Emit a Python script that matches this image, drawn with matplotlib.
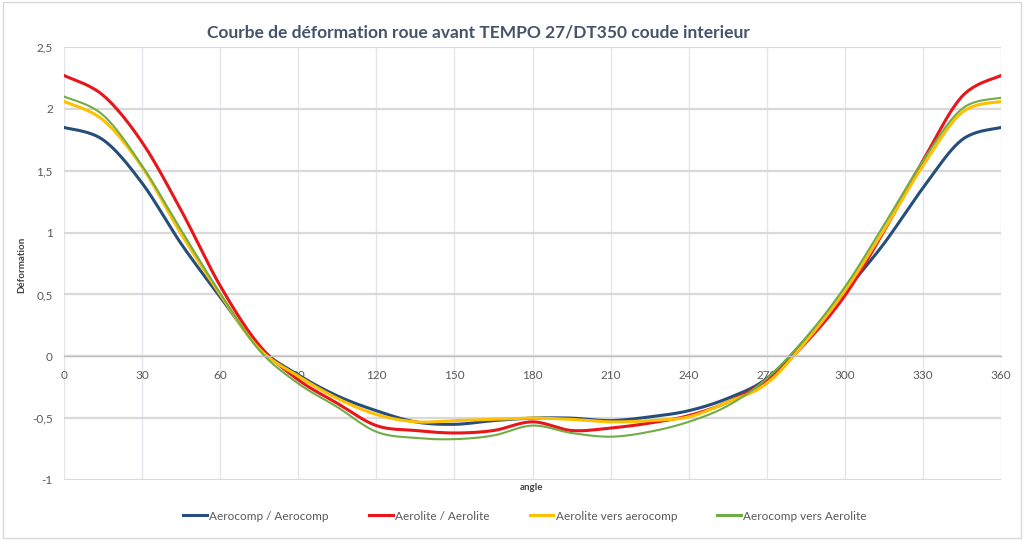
import numpy as np
import matplotlib
matplotlib.use("Agg")
import matplotlib.pyplot as plt
from matplotlib.patches import Rectangle
from matplotlib.lines import Line2D

angles = list(range(0, 361, 15))
aerocomp_aerocomp = [1.85, 1.75, 1.40, 0.91, 0.48, 0.07, -0.15, -0.32, -0.44, -0.53, -0.55, -0.52, -0.50,
                     -0.50, -0.52, -0.49, -0.44, -0.34, -0.18, 0.14, 0.52, 0.91, 1.36, 1.75, 1.85]
aerolite_aerolite = [2.27, 2.11, 1.73, 1.18, 0.57, 0.09, -0.19, -0.38, -0.56, -0.60, -0.62, -0.60, -0.53,
                     -0.60, -0.58, -0.54, -0.48, -0.37, -0.19, 0.11, 0.49, 1.01, 1.58, 2.10, 2.27]
aerolite_vers_aerocomp = [2.06, 1.91, 1.53, 0.99, 0.50, 0.06, -0.16, -0.34, -0.47, -0.53, -0.52, -0.51, -0.50,
                          -0.51, -0.53, -0.52, -0.49, -0.37, -0.22, 0.12, 0.53, 1.02, 1.54, 1.97, 2.06]
aerocomp_vers_aerolite = [2.10, 1.95, 1.54, 1.02, 0.51, 0.05, -0.22, -0.41, -0.61, -0.66, -0.67, -0.64, -0.56,
                          -0.62, -0.65, -0.61, -0.53, -0.40, -0.18, 0.15, 0.56, 1.06, 1.58, 2.00, 2.09]

series_names = ["Aerocomp / Aerocomp", "Aerolite / Aerolite", "Aerolite vers aerocomp", "Aerocomp vers Aerolite"]
x_ticks = list(range(0, 361, 30))
y_ticks = [-1, -0.5, 0, 0.5, 1, 1.5, 2, 2.5]
y_tick_labels = ["-1", "-0,5", "0", "0,5", "1", "1,5", "2", "2,5"]

colors = ["#264e7a", "#e8151b", "#ffc000", "#70ad47"]
widths = [2.2, 2.2, 2.2, 1.5]


def smooth(x, y, n=24):
    """Excel-like smoothed line (Catmull-Rom / Bezier) through the given points."""
    x = np.asarray(x, float)
    y = np.asarray(y, float)
    P = np.column_stack([x, y])
    out = []
    m = len(P)
    t = np.linspace(0, 1, n)[:, None]
    for i in range(m - 1):
        p0 = P[i - 1] if i > 0 else P[i]
        p1 = P[i]
        p2 = P[i + 1]
        p3 = P[i + 2] if i + 2 < m else P[i + 1]
        c1 = p1 + (p2 - p0) / 6.0
        c2 = p2 - (p3 - p1) / 6.0
        seg = ((1 - t) ** 3) * p1 + 3 * ((1 - t) ** 2) * t * c1 + 3 * (1 - t) * t ** 2 * c2 + t ** 3 * p2
        out.append(seg if i == 0 else seg[1:])
    S = np.vstack(out)
    return S[:, 0], S[:, 1]


plt.rcParams['font.family'] = ['Lato', 'DejaVu Sans']
fig = plt.figure(figsize=(10.24, 5.4), dpi=100)
fig.patches.append(Rectangle((0.003, 0.004), 0.994, 0.992, transform=fig.transFigure,
                             fill=False, edgecolor="#d9d9d9", linewidth=1))

ax = fig.add_axes([64 / 1024, 1 - 480 / 540, (1001 - 64) / 1024, (480 - 47) / 540])

for ys, c, w, name in zip([aerocomp_aerocomp, aerolite_aerolite, aerolite_vers_aerocomp, aerocomp_vers_aerolite],
                          colors, widths, series_names):
    sx, sy = smooth(angles, ys)
    ax.plot(sx, sy, color=c, linewidth=w, label=name, solid_capstyle='round')

ax.set_xlim(0, 360)
ax.set_ylim(-1, 2.5)
ax.set_xticks(x_ticks)
ax.set_xticklabels([str(v) for v in x_ticks])
ax.set_yticks(y_ticks)
ax.set_yticklabels(y_tick_labels)

for s in ["top", "right", "left"]:
    ax.spines[s].set_visible(False)
ax.spines["bottom"].set_position(("data", 0))
ax.spines["bottom"].set_color("#bfbfbf")
ax.spines["bottom"].set_linewidth(1)

ax.grid(axis="y", color="#d9d9d9", linewidth=1.6)
ax.grid(axis="x", color="#e2e6ec", linewidth=1.0)
ax.set_axisbelow(True)
ax.tick_params(axis="both", length=0, labelsize=8.5, labelcolor="#595959")
ax.tick_params(axis="x", pad=10)
ax.tick_params(axis="y", pad=8)

fig.text(478 / 1024, 1 - 32 / 540, "Courbe de déformation roue avant TEMPO 27/DT350 coude interieur",
         ha="center", va="center", fontsize=12.5, fontweight="bold", color="#44546a")
fig.text(22 / 1024, 1 - 265 / 540, "Déformation", rotation=90, ha="center", va="center",
         fontsize=7, fontweight="bold", color="#404040")
fig.text(532 / 1024, 1 - 488 / 540, "angle", ha="center", va="center",
         fontsize=7, fontweight="bold", color="#404040")

handles = [Line2D([0], [0], color=c, linewidth=2.2) for c in colors]
fig.legend(handles, series_names, loc="center", bbox_to_anchor=(525 / 1024, 1 - 516 / 540), ncol=4,
           frameon=False, fontsize=8.5, handlelength=2.0, handletextpad=0.2, columnspacing=3.4,
           labelcolor="#595959")

fig.savefig("out.png", dpi=100, facecolor="white")
